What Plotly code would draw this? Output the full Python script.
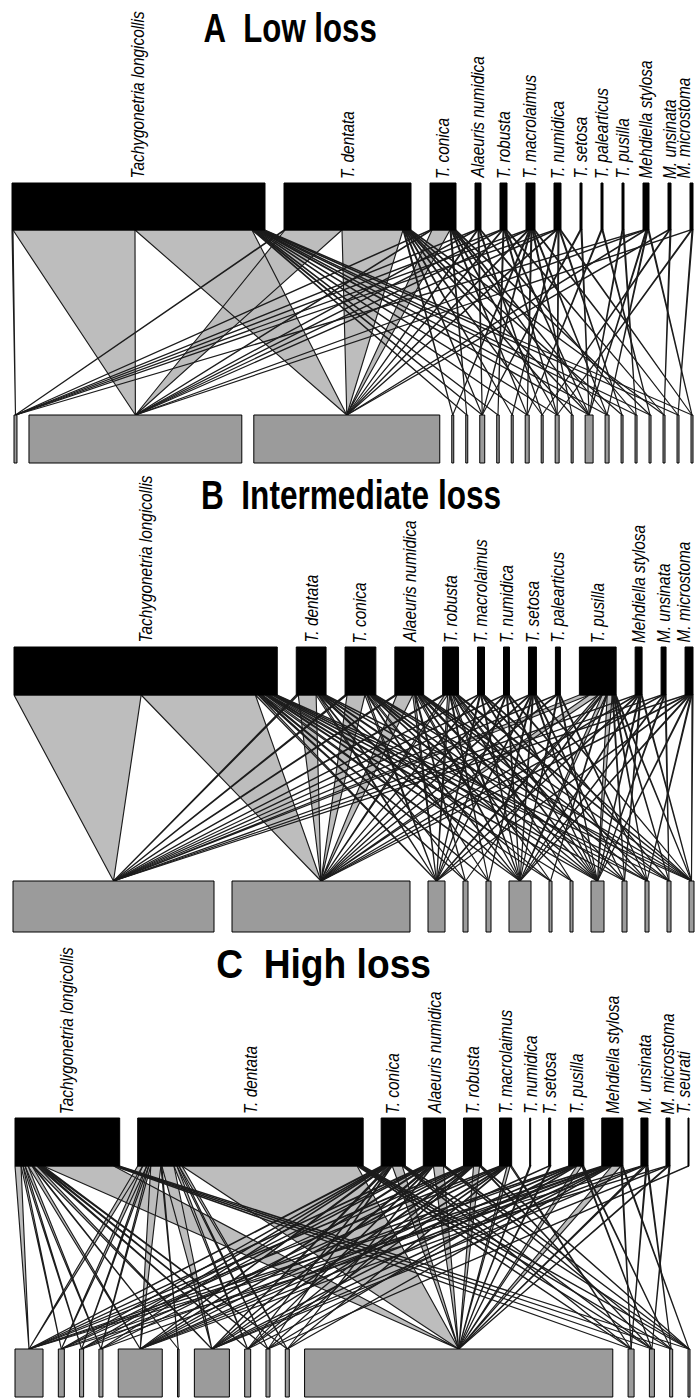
import json
import plotly.graph_objects as go

W, H = 696, 1399

# ---------------- data ----------------
# Upper level: parasite (nematode) species; lower level: host categories.
upper_A = ["Tachygonetria longicollis", "T. dentata", "T. conica", "Alaeuris numidica", "T. robusta",
           "T. macrolaimus", "T. numidica", "T. setosa", "T. palearticus", "T. pusilla",
           "Mehdiella stylosa", "M. unsinata", "M. microstoma"]
upper_B = ["Tachygonetria longicollis", "T. dentata", "T. conica", "Alaeuris numidica", "T. robusta",
           "T. macrolaimus", "T. numidica", "T. setosa", "T. palearticus", "T. pusilla",
           "Mehdiella stylosa", "M. unsinata", "M. microstoma"]
upper_C = ["Tachygonetria longicollis", "T. dentata", "T. conica", "Alaeuris numidica", "T. robusta",
           "T. macrolaimus", "T. numidica", "T. setosa", "T. pusilla", "Mehdiella stylosa",
           "M. unsinata", "M. microstoma", "T. seurati"]

# lower-level abundances
lower_A = [3, 214, 187, 2, 2, 5, 2.5, 2, 4, 2, 4, 2, 8, 4, 2, 2, 2, 2, 2, 2]
lower_B = [201, 178, 17, 5, 5, 22, 3, 3, 13, 5, 4, 4, 5]
lower_C = [28, 6, 4, 4, 44, 1.5, 35, 6, 4, 4, 308, 6, 5, 3, 2]

# interaction matrices (rows = upper species, columns = lower units)
web_A = [
    [1, 122, 117, 0, 1, 1.5, 1, 0, 1, 0, 1, 0, 2, 1, 0, 1, 1, 0, 1.5, 1],
    [1, 57, 61, 1, 0, 1, 0, 1, 0, 1, 0, 1, 1, 0, 1, 0, 0, 1, 0, 0],
    [1, 1, 18, 0, 1, 0, 0, 0, 1, 0, 1, 0, 1, 1, 0, 0, 1, 0, 0, 0],
    [1, 1, 1, 0, 0, 1, 0, 0, 0, 1, 0, 0, 0, 0, 0, 1, 0, 0, 0, 0],
    [1, 1, 1, 0, 0, 0, 1, 0, 0, 0, 1, 0, 1, 0, 0, 0, 0, 1, 0, 0],
    [1, 1, 1, 1, 0, 1, 0, 0, 1, 0, 0, 1, 0, 1, 0, 0, 0, 0, 1, 0],
    [1, 1, 1, 0, 0, 0, 0, 1, 0, 0, 1, 0, 0, 0, 1, 0, 0, 0, 0, 1],
    [0, 0, 0, 0, 0, 1, 0, 0, 0, 0, 0, 0, 1, 0, 0, 0, 0, 0, 0, 0],
    [0, 0, 0, 0, 0, 0, 0, 0, 1, 0, 0, 0, 0, 0, 0, 0, 1, 0, 0, 0],
    [0, 0, 0, 0, 0, 0, 0, 0, 0, 0, 0, 0, 1, 0, 0, 1, 0, 0, 0, 0],
    [1, 1, 1, 0, 0, 0, 0, 0, 0, 0, 0, 0, 1, 1, 0, 0, 0, 0, 0, 1],
    [0, 0, 1, 0, 0, 0, 0, 0, 0, 1, 0, 0, 0, 0, 0, 0, 0, 1, 0, 0],
    [0, 1, 0, 0, 0, 0, 0, 0, 0, 0, 1, 0, 0, 0, 0, 0, 0, 0, 1, 0],
]
web_B = [
    [128, 115, 3, 2, 2, 3, 2, 2, 3, 1.5, 1.5, 1, 1],
    [2, 18, 2, 1, 0, 2, 1, 0, 2, 0, 1, 0, 1],
    [2, 18, 2, 0, 1, 2, 0, 1, 2, 1, 0, 1, 1],
    [2, 16, 2, 1, 0, 2, 1, 0, 2, 0, 1, 1, 1],
    [2, 3, 2, 0, 1, 2, 0, 1, 2, 1, 0, 0, 2],
    [1, 1, 1, 0, 0, 1, 0, 0, 1, 0, 1, 0, 1],
    [1, 1, 1, 0, 0, 1, 0, 0, 1, 0, 0, 1, 0],
    [1, 1, 1, 0, 1, 1, 0, 0, 1, 1, 0, 0, 1],
    [1, 1, 0, 0, 0, 1, 0, 0, 1, 0, 1, 0, 0],
    [10, 9, 3, 1, 0, 4, 1, 0, 5, 1, 1, 1, 1],
    [1, 1, 1, 0, 0, 1, 0, 0, 1, 1, 0, 0, 1],
    [1, 1, 0, 0, 0, 1, 0, 0, 1, 0, 0, 1, 0],
    [1.5, 1.5, 1, 0, 0, 1, 0, 0, 1, 0, 1, 0, 1],
]
web_C = [
    [6, 2, 2, 3, 4, 1, 4, 2, 2, 2, 70, 1.5, 1.5, 1.5, 1.5],
    [5, 4, 2, 2, 10, 1, 12, 3, 2, 3, 174, 1.5, 1.5, 1.5, 1.5],
    [2, 1, 1, 1, 2, 0, 2, 1, 1, 0, 10, 1, 1, 0, 1],
    [2, 1, 1, 0, 2, 0, 2, 1, 0, 1, 10, 0, 0, 1, 1],
    [2, 1, 0, 1, 2, 0, 2, 1, 1, 0, 6, 0, 1, 0, 1],
    [1.5, 0, 1, 0, 1.5, 0, 1.5, 1, 0, 1, 3, 1.5, 0, 0, 0],
    [0, 0, 0, 0, 0, 0, 0, 0, 0, 0, 1, 0, 0, 0, 0],
    [0, 0, 0, 0, 1, 0, 0, 0, 0, 0, 1, 0, 0, 0, 0],
    [2, 1, 0, 0, 2, 0, 2, 0, 1, 0, 5, 0, 1, 1, 0],
    [2, 0, 1, 1, 2, 0, 2, 1, 0, 1, 9, 1, 0, 0, 1],
    [1, 0, 0, 0, 1, 0, 1, 0, 0, 0, 2, 1, 0, 1, 0],
    [0, 1, 0, 0, 0, 0, 1, 0, 0, 0, 1, 0, 1, 0, 0],
    [0, 0, 0, 0, 0, 0, 0, 0, 1, 0, 0, 0, 0, 0, 0],
]

titles = ["A\u00a0\u00a0Low loss", "B\u00a0\u00a0Intermediate loss", "C\u00a0\u00a0High loss"]

# ---------------- layout of each web ----------------
panels = [
    dict(names=upper_A, web=web_A, lower=lower_A, title=titles[0], squeeze=0.78,
         up_x=(12, 693), up_gap=19, lo_x=(14, 693), lo_gap=12,
         up_y=(183, 230), lo_y=(415, 463), label_y=180, title_xy=(290, 28)),
    dict(names=upper_B, web=web_B, lower=lower_B, title=titles[1], squeeze=0.79,
         up_x=(14, 693), up_gap=19, lo_x=(13, 694), lo_gap=18,
         up_y=(647, 695), lo_y=(881, 932), label_y=644, title_xy=(351, 495)),
    dict(names=upper_C, web=web_C, lower=lower_C, title=titles[2], squeeze=0.93,
         up_x=(15, 689), up_gap=18, lo_x=(15, 690), lo_gap=15.3,
         up_y=(1118, 1166), lo_y=(1349, 1397), label_y=1115, title_xy=(323, 964)),
]

LINK_FILL = "#bdbdbd"
LINK_EDGE = "#1c1c1c"
LOWER_FILL = "#9b9b9b"

LABEL_SIZE = 17.5
TITLE_SIZE = 40
LABEL_SQUEEZE = 0.88
LABEL_FONT = dict(family="Liberation Sans, Arial, sans-serif", size=LABEL_SIZE, color="black")
TITLE_FONT = dict(family="Liberation Sans, Arial, sans-serif", size=TITLE_SIZE, color="black")
LABEL_X_MAX = W - 12


def place(values, lo, hi, gap):
    """Lay boxes side by side with a fixed gap, widths proportional to values."""
    scale = (hi - lo - gap * (len(values) - 1)) / float(sum(values))
    spans, x = [], lo
    for v in values:
        spans.append((x, x + v * scale))
        x += v * scale + gap
    return spans, scale


fig = go.Figure()
shapes, annotations = [], []

for p in panels:
    web = p["web"]
    row_tot = [sum(r) for r in web]
    up_spans, up_scale = place(row_tot, p["up_x"][0], p["up_x"][1], p["up_gap"])
    lo_spans, _ = place(p["lower"], p["lo_x"][0], p["lo_x"][1], p["lo_gap"])
    lo_centres = [(a + b) / 2 for a, b in lo_spans]
    y_top = p["up_y"][1]
    y_bot = p["lo_y"][0]

    # interactions: wedge from a slice of the upper box to the centre of the lower box
    xs, ys = [], []
    for i, row in enumerate(web):
        x = up_spans[i][0]
        for j, w in enumerate(row):
            if w <= 0:
                continue
            x1 = x + w * up_scale
            xs += [x, x1, lo_centres[j], x, None]
            ys += [y_top, y_top, y_bot, y_top, None]
            x = x1
    fig.add_trace(go.Scatter(x=xs, y=ys, mode="lines", fill="toself",
                             fillcolor=LINK_FILL,
                             line=dict(color=LINK_EDGE, width=1.15),
                             hoverinfo="skip", showlegend=False))

    # upper boxes (black) and their labels
    for (a, b), name in zip(up_spans, p["names"]):
        shapes.append(dict(type="rect", xref="x", yref="y", x0=a, x1=b,
                           y0=p["up_y"][0], y1=p["up_y"][1],
                           fillcolor="black", line=dict(color="black", width=1), layer="above"))
        annotations.append(dict(x=min((a + b) / 2, LABEL_X_MAX), y=p["label_y"], xref="x", yref="y",
                                text="<i>%s</i>" % name, textangle=-90, showarrow=False,
                                xanchor="center", yanchor="bottom", font=LABEL_FONT,
                                borderpad=0))

    # lower boxes (grey)
    for a, b in lo_spans:
        shapes.append(dict(type="rect", xref="x", yref="y", x0=a, x1=b,
                           y0=p["lo_y"][0], y1=p["lo_y"][1],
                           fillcolor=LOWER_FILL, line=dict(color="black", width=1), layer="above"))

    tx, ty = p["title_xy"]
    annotations.append(dict(x=tx, y=ty, xref="x", yref="y", text="<b>%s</b>" % p["title"],
                            showarrow=False, xanchor="center", yanchor="middle", font=TITLE_FONT))

fig.update_layout(
    width=W, height=H,
    margin=dict(l=0, r=0, t=0, b=0),
    paper_bgcolor="white", plot_bgcolor="white",
    xaxis=dict(range=[0, W], visible=False, fixedrange=True),
    yaxis=dict(range=[H, 0], visible=False, fixedrange=True),
    shapes=shapes, annotations=annotations,
    showlegend=False,
)

# narrow typeface look: compress annotation text along its own baseline
title_squeeze = {p["title"]: p["squeeze"] for p in panels}
condense_js = """
var gd = document.getElementById('{plot_id}');
var titleSqueeze = %s;
gd.querySelectorAll('text.annotation-text').forEach(function (t) {
    var key = t.textContent;
    var isTitle = titleSqueeze.hasOwnProperty(key);
    t.style.transformBox = 'fill-box';
    t.style.transformOrigin = isTitle ? 'center' : 'left center';
    t.style.transform = 'scaleX(' + (isTitle ? titleSqueeze[key] : %s) + ')';
});
""" % (json.dumps(title_squeeze), LABEL_SQUEEZE)

fig.write_html("out.html", post_script=condense_js)
